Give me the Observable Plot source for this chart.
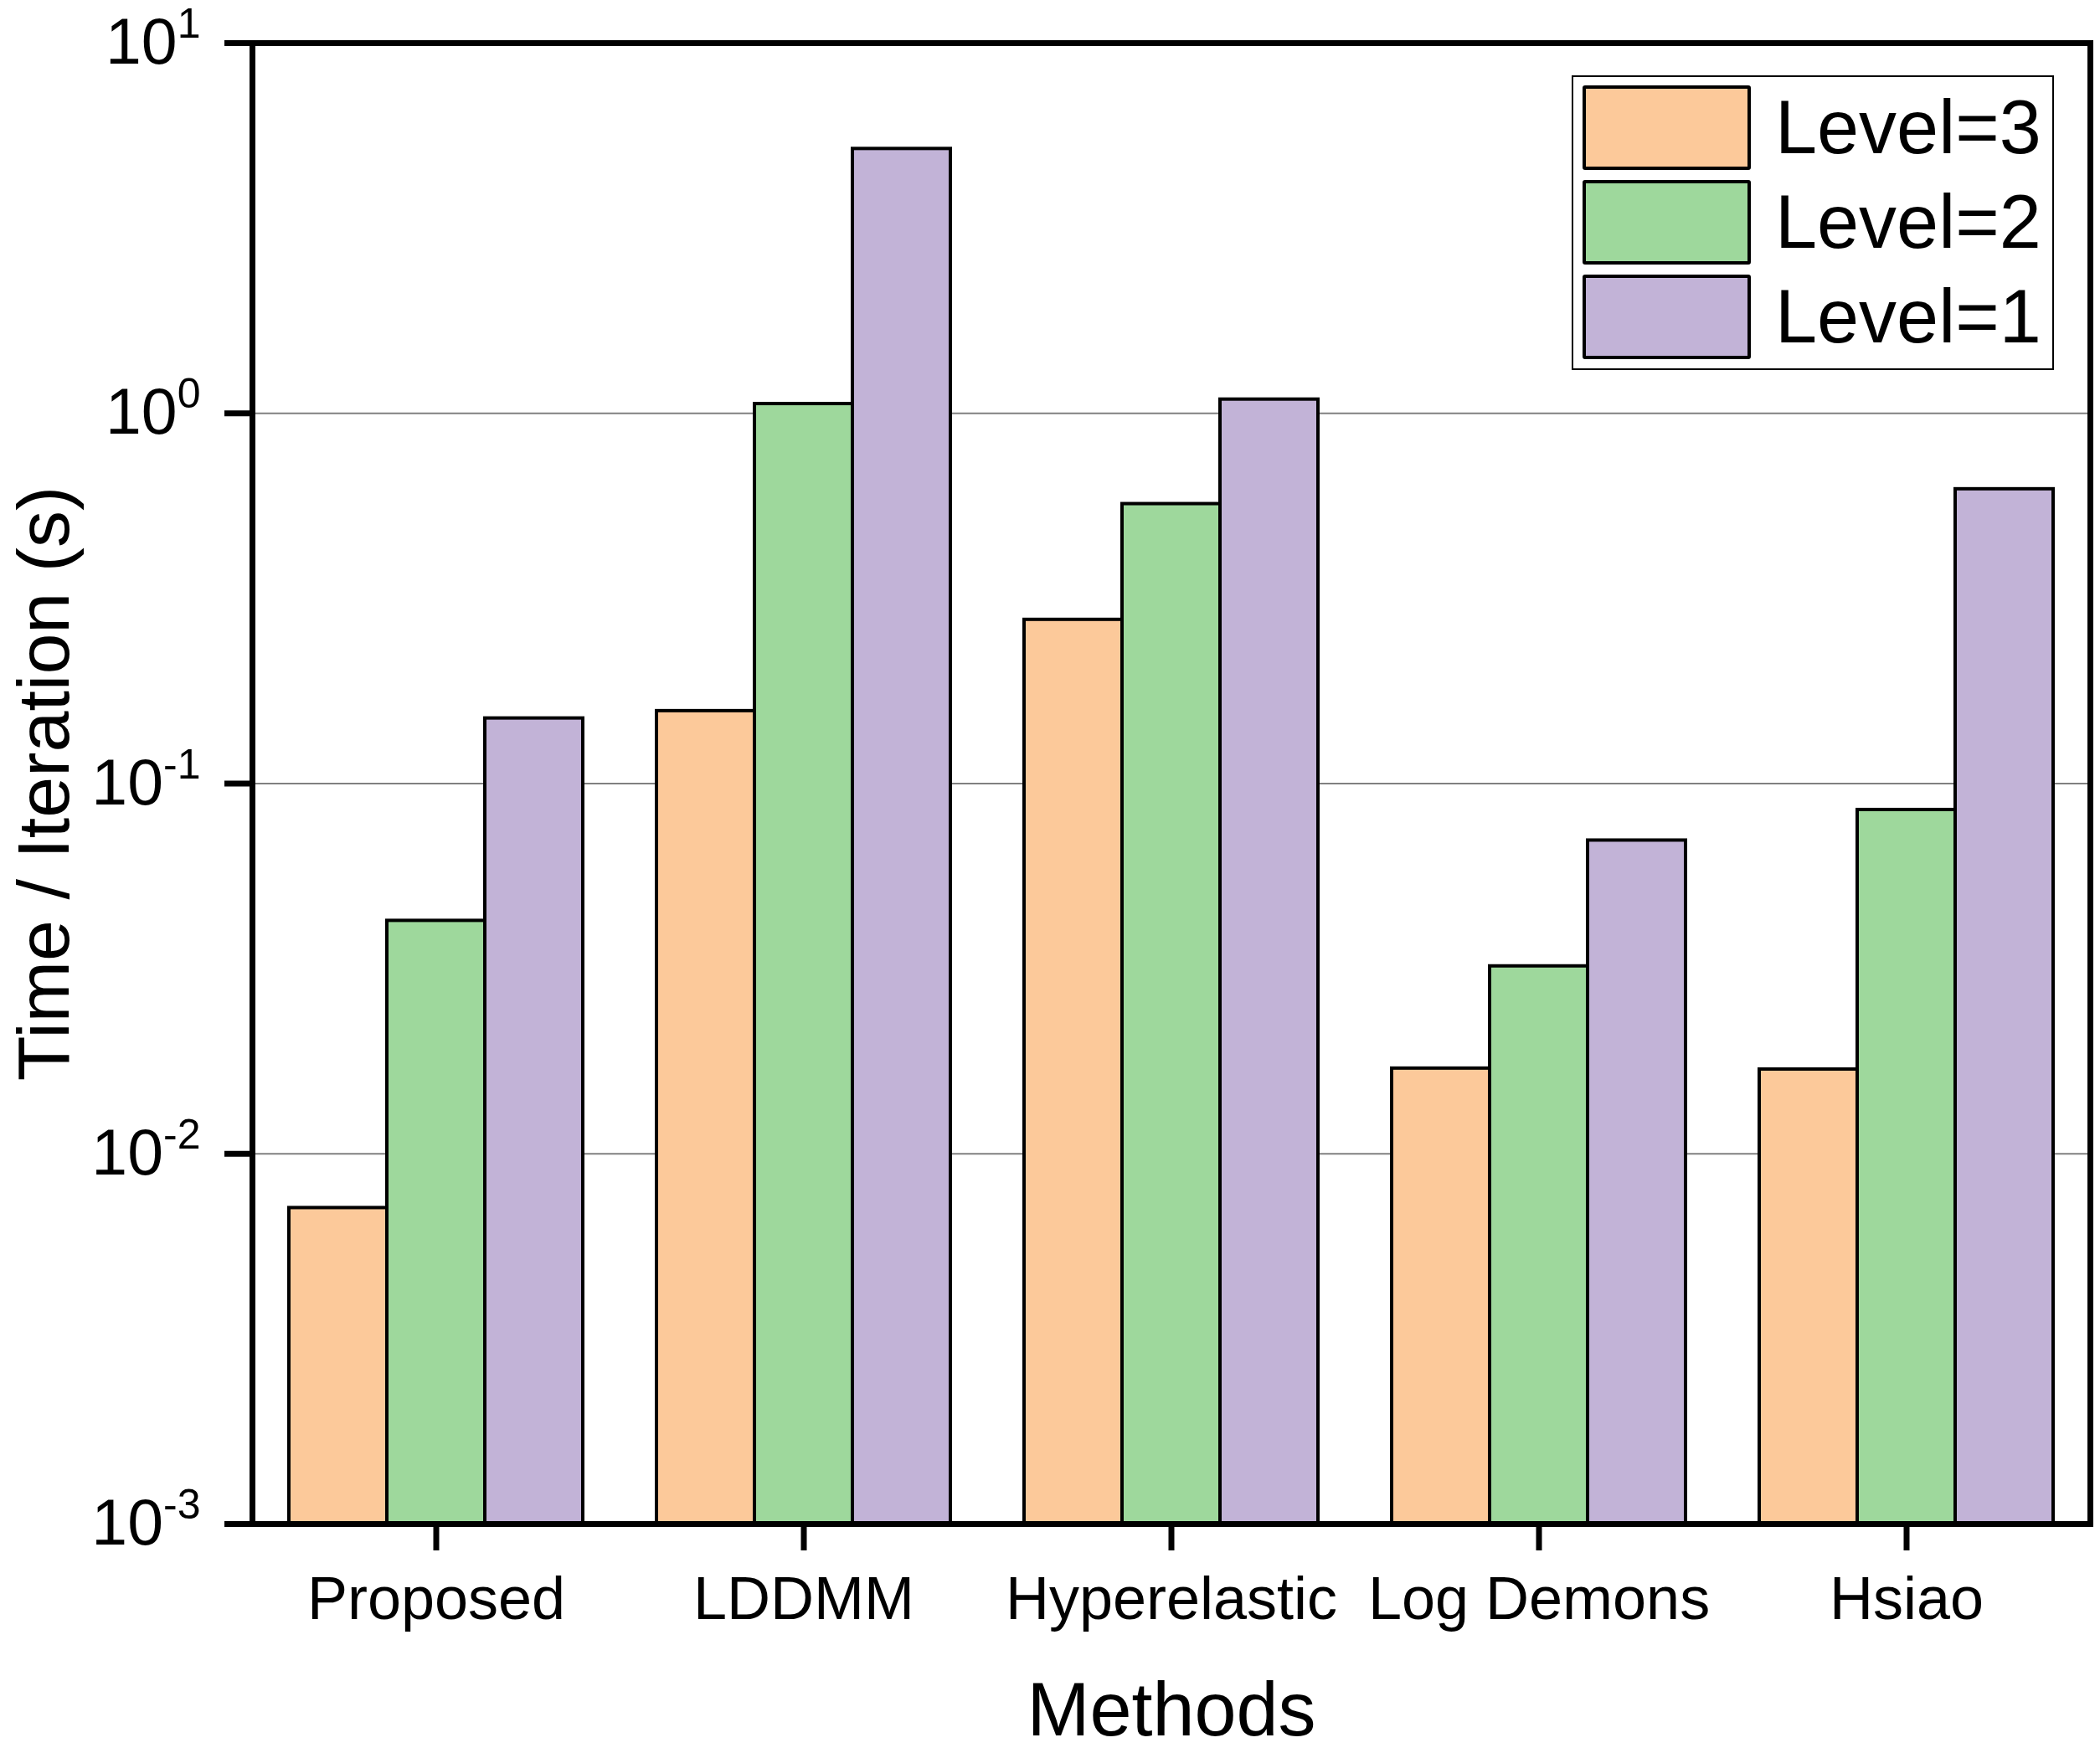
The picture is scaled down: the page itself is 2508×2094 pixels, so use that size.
<!DOCTYPE html>
<html><head><meta charset="utf-8">
<script src="https://cdn.jsdelivr.net/npm/d3@7"></script>
<script src="https://cdn.jsdelivr.net/npm/@observablehq/plot@0.6"></script>
<style>
html,body{margin:0;padding:0;background:#fff;overflow:hidden;}
#wrap{position:relative;width:2508px;height:2094px;font-family:"Liberation Sans",Arial,sans-serif;}
#wrap svg{max-width:none !important;display:block;}
g[aria-label="y-axis label"]{font-size:88px;}
g[aria-label="fx-axis label"]{font-size:90px;}
#legend{position:absolute;left:1877px;top:90px;width:576px;height:352px;border:2px solid #000;box-sizing:border-box;background:#fff;}
.item{position:absolute;left:11px;height:101px;width:560px;}
.sw{position:absolute;left:0;top:0;width:201px;height:101px;border:4px solid #000;border-radius:3px;box-sizing:border-box;}
.lab{position:absolute;left:230px;top:0;height:101px;line-height:101px;font-size:90px;color:#000;}
</style></head><body><div id="wrap"></div>
<script>
const methods = ["Proposed", "LDDMM", "Hyperelastic", "Log Demons", "Hsiao"];
const levels = ["Level=3", "Level=2", "Level=1"];
const level3 = [0.00714, 0.157, 0.277, 0.0170, 0.0169];
const level2 = [0.0426, 1.06, 0.569, 0.0321, 0.0849];
const level1 = [0.150, 5.18, 1.09, 0.0702, 0.624];
const colors = ["#fcc99a", "#9ed89c", "#c2b3d7"];
const yTicks = [1e-3, 1e-2, 1e-1, 1, 10];
const yDomain = [1e-3, 10];
const gridValues = [1e-2, 1e-1, 1];

const series = [level3, level2, level1];
const data = methods.flatMap((m, i) => levels.map((l, j) => ({method: m, level: l, value: series[j][i]})));

const chart = Plot.plot({
  width: 2508, height: 2094,
  marginLeft: 301, marginRight: 12, marginTop: 51, marginBottom: 274,
  style: {fontFamily: "Liberation Sans, Arial, sans-serif", background: "white", color: "black"},
  fx: {domain: methods, padding: 0},
  x: {domain: levels, paddingInner: 0, paddingOuter: 0.375, axis: null},
  y: {type: "log", domain: yDomain},
  color: {domain: levels, range: colors},
  marks: [
    Plot.ruleY(gridValues, {stroke: "#808080", strokeWidth: 2}),
    Plot.barY(data, {fx: "method", x: "level", y1: d => yDomain[0], y2: "value", fill: "level", stroke: "black", strokeWidth: 4}),
    Plot.frame({stroke: "black", strokeWidth: 7, facet: "super"}),
    Plot.axisY({ticks: yTicks, tickFormat: d => "10^" + Math.round(Math.log10(d)), tickSize: 33, tickPadding: 29, strokeWidth: 7, fontSize: 77,
      label: "Time / Iteration (s)", labelAnchor: "center", labelOffset: 282, labelArrow: "none"}),
    Plot.axisFx({anchor: "bottom", tickSize: 32, tickPadding: 30, strokeWidth: 7, fontSize: 72,
      label: "Methods", labelAnchor: "center", labelOffset: 252, labelArrow: "none"})
  ]
});
document.getElementById("wrap").appendChild(chart);

// superscript exponents on y tick labels
chart.querySelectorAll('g[aria-label="y-axis tick label"] text').forEach(t => {
  const s = t.textContent;
  if (!s.startsWith("10^")) return;
  const exp = s.slice(3);
  t.textContent = "";
  const ns = "http://www.w3.org/2000/svg";
  const a = document.createElementNS(ns, "tspan"); a.textContent = "10";
  const b = document.createElementNS(ns, "tspan"); b.textContent = exp;
  b.setAttribute("font-size", "0.65em"); b.setAttribute("dy", "-0.62em");
  t.appendChild(a); t.appendChild(b);
});

// legend
const legend = document.createElement("div");
legend.id = "legend";
levels.forEach((l, j) => {
  const it = document.createElement("div");
  it.className = "item";
  it.style.top = (10 + j * 113) + "px";
  const sw = document.createElement("div"); sw.className = "sw"; sw.style.background = colors[j];
  const lab = document.createElement("div"); lab.className = "lab"; lab.textContent = l;
  it.appendChild(sw); it.appendChild(lab);
  legend.appendChild(it);
});
document.getElementById("wrap").appendChild(legend);
</script>
</body></html>
